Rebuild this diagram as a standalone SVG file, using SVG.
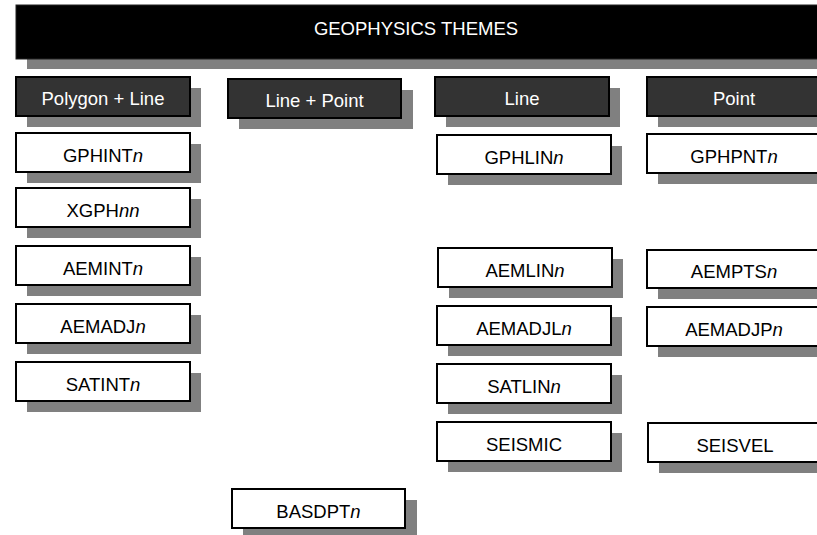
<svg xmlns="http://www.w3.org/2000/svg" width="817" height="535" viewBox="0 0 817 535">
<style>
text{font-family:"Liberation Sans",Arial,sans-serif;font-size:18.5px;text-anchor:middle}
.sh{fill:#808080}
.box{fill:#fff;stroke:#000;stroke-width:2}
.hdr{fill:#333;stroke:#000;stroke-width:2}
.lt{fill:#000}
.wt{fill:#fff}
i,.it{font-style:italic}
</style>
<rect width="817" height="535" fill="#fff"/>
<g id="title">
<rect class="sh" x="27" y="15" width="800" height="54"/>
<rect x="16" y="5" width="810" height="54" fill="#000" stroke="#222" stroke-width="1"/>
<text class="wt" x="416" y="35">GEOPHYSICS THEMES</text>
</g>
<g id="hdr-polygon-line">
<rect class="sh" x="27" y="88" width="174" height="39"/>
<rect class="hdr" x="16" y="77" width="174" height="39"/>
<text class="wt" x="103" y="105">Polygon + Line</text>
</g>
<g id="hdr-line-point">
<rect class="sh" x="239" y="90" width="174" height="39"/>
<rect class="hdr" x="228" y="79" width="173" height="39"/>
<text class="wt" x="314.5" y="107">Line + Point</text>
</g>
<g id="hdr-line">
<rect class="sh" x="446" y="88" width="174" height="39"/>
<rect class="hdr" x="435" y="77" width="174" height="39"/>
<text class="wt" x="522" y="105">Line</text>
</g>
<g id="hdr-point">
<rect class="sh" x="658" y="88" width="174" height="39"/>
<rect class="hdr" x="647" y="77" width="174" height="39"/>
<text class="wt" x="734" y="105">Point</text>
</g>
<g id="GPHINTn">
<rect class="sh" x="27" y="144" width="174" height="39"/>
<rect class="box" x="16" y="133" width="174" height="39"/>
<text class="lt" x="103" y="161.5">GPHINT<tspan class="it">n</tspan></text>
</g>
<g id="XGPHnn">
<rect class="sh" x="27" y="199" width="174" height="39"/>
<rect class="box" x="16" y="188" width="174" height="39"/>
<text class="lt" x="103" y="216.5">XGPH<tspan class="it">nn</tspan></text>
</g>
<g id="AEMINTn">
<rect class="sh" x="27" y="257" width="174" height="39"/>
<rect class="box" x="16" y="246" width="174" height="39"/>
<text class="lt" x="103" y="274.5">AEMINT<tspan class="it">n</tspan></text>
</g>
<g id="AEMADJn">
<rect class="sh" x="27" y="315" width="174" height="39"/>
<rect class="box" x="16" y="304" width="174" height="39"/>
<text class="lt" x="103" y="332.5">AEMADJ<tspan class="it">n</tspan></text>
</g>
<g id="SATINTn">
<rect class="sh" x="27" y="373" width="174" height="39"/>
<rect class="box" x="16" y="362" width="174" height="39"/>
<text class="lt" x="103" y="390.5">SATINT<tspan class="it">n</tspan></text>
</g>
<g id="BASDPTn">
<rect class="sh" x="243" y="500" width="174" height="39"/>
<rect class="box" x="232" y="489" width="173" height="39"/>
<text class="lt" x="318.5" y="517.5">BASDPT<tspan class="it">n</tspan></text>
</g>
<g id="GPHLINn">
<rect class="sh" x="448" y="146" width="174" height="39"/>
<rect class="box" x="437" y="135" width="174" height="39"/>
<text class="lt" x="524" y="163.5">GPHLIN<tspan class="it">n</tspan></text>
</g>
<g id="AEMLINn">
<rect class="sh" x="449" y="259" width="174" height="39"/>
<rect class="box" x="438" y="248" width="174" height="39"/>
<text class="lt" x="525" y="276.5">AEMLIN<tspan class="it">n</tspan></text>
</g>
<g id="AEMADJLn">
<rect class="sh" x="448" y="317" width="174" height="39"/>
<rect class="box" x="437" y="306" width="174" height="39"/>
<text class="lt" x="524" y="334.5">AEMADJL<tspan class="it">n</tspan></text>
</g>
<g id="SATLINn">
<rect class="sh" x="448" y="375" width="174" height="39"/>
<rect class="box" x="437" y="364" width="174" height="39"/>
<text class="lt" x="524" y="392.5">SATLIN<tspan class="it">n</tspan></text>
</g>
<g id="SEISMIC">
<rect class="sh" x="448" y="433" width="174" height="39"/>
<rect class="box" x="437" y="422" width="174" height="39"/>
<text class="lt" x="524" y="450.5">SEISMIC</text>
</g>
<g id="GPHPNTn">
<rect class="sh" x="658" y="145" width="174" height="39"/>
<rect class="box" x="647" y="134" width="174" height="39"/>
<text class="lt" x="734" y="162.5">GPHPNT<tspan class="it">n</tspan></text>
</g>
<g id="AEMPTSn">
<rect class="sh" x="658" y="260" width="174" height="39"/>
<rect class="box" x="647" y="250" width="174" height="38"/>
<text class="lt" x="734" y="277.5">AEMPTS<tspan class="it">n</tspan></text>
</g>
<g id="AEMADJPn">
<rect class="sh" x="658" y="318" width="174" height="39"/>
<rect class="box" x="647" y="307" width="174" height="39"/>
<text class="lt" x="734" y="335.5">AEMADJP<tspan class="it">n</tspan></text>
</g>
<g id="SEISVEL">
<rect class="sh" x="659" y="434" width="174" height="39"/>
<rect class="box" x="648" y="423" width="174" height="39"/>
<text class="lt" x="735" y="451.5">SEISVEL</text>
</g>
</svg>
